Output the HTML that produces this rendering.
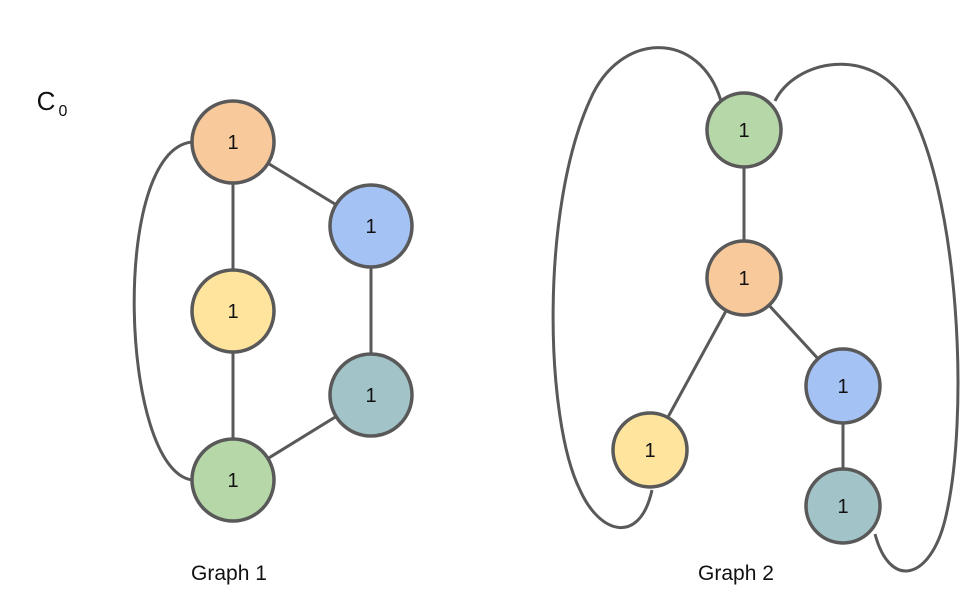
<!DOCTYPE html>
<html><head><style>body{margin:0;background:#fff}</style></head><body>
<svg width="976" height="603" viewBox="0 0 976 603" xmlns="http://www.w3.org/2000/svg" style="display:block">
<g fill="none" stroke="#595959" stroke-width="3">
<path d="M192,142 C110,150 120,470 192,480"/>
<line x1="233" y1="142" x2="233" y2="480"/>
<line x1="233" y1="142" x2="371" y2="226"/>
<line x1="371" y1="226" x2="371" y2="395"/>
<line x1="233" y1="480" x2="371" y2="395"/>
<path d="M721,101 C700,30 620,30 590,100 C540,210 545,420 580,490 C600,535 640,545 652,490"/>
<path d="M775,101 C795,60 870,45 905,100 C960,190 970,420 945,520 C930,580 890,590 875,534"/>
<line x1="744" y1="130" x2="744" y2="278"/>
<line x1="744" y1="278" x2="650" y2="450"/>
<line x1="744" y1="278" x2="843" y2="386"/>
<line x1="843" y1="386" x2="843" y2="506"/>
</g>
<g stroke="#595959" stroke-width="3.5">
<circle cx="233" cy="142" r="41" fill="#f8c99b"/>
<circle cx="371" cy="226" r="41" fill="#a4c2f4"/>
<circle cx="233" cy="311" r="41" fill="#fee49c"/>
<circle cx="371" cy="395" r="41" fill="#a2c4c9"/>
<circle cx="233" cy="480" r="41" fill="#b6d7a8"/>
<circle cx="744" cy="130" r="37" fill="#b6d7a8"/>
<circle cx="744" cy="278" r="37" fill="#f8c99b"/>
<circle cx="843" cy="386" r="37" fill="#a4c2f4"/>
<circle cx="650" cy="450" r="37" fill="#fee49c"/>
<circle cx="843" cy="506" r="37" fill="#a2c4c9"/>
</g>
<g font-family="Liberation Sans, sans-serif" font-size="20" fill="#111" text-anchor="middle">
<text x="233" y="149">1</text><text x="371" y="233">1</text><text x="233" y="318">1</text>
<text x="371" y="402">1</text><text x="233" y="487">1</text>
<text x="744" y="137">1</text><text x="744" y="285">1</text><text x="843" y="393">1</text>
<text x="650" y="457">1</text><text x="843" y="513">1</text>
<text x="229" y="580" font-size="21">Graph 1</text>
<text x="736" y="580" font-size="21">Graph 2</text>
<text x="46" y="110" font-size="26">C</text>
<text x="63" y="116" font-size="16">0</text>
</g>
</svg>
</body></html>
